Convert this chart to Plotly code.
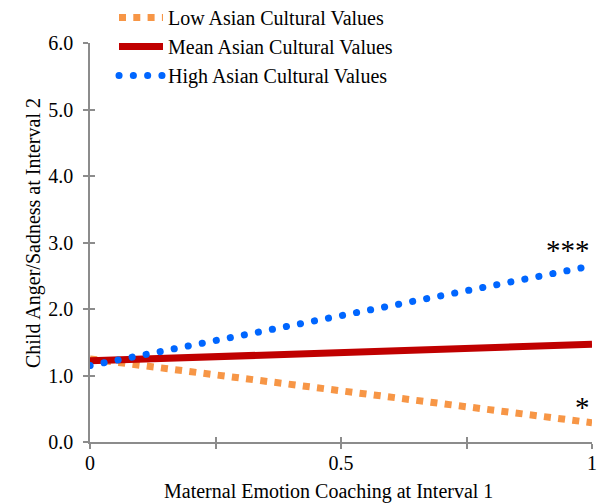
import plotly.graph_objects as go

# Simple-slopes data: child anger/sadness predicted from maternal emotion coaching
coaching = [0, 1]
low_values = [1.25, 0.29]
mean_values = [1.22, 1.47]
high_values = [1.15, 2.65]

series_names = ["Low Asian Cultural Values", "Mean Asian Cultural Values", "High Asian Cultural Values"]
x_tick_vals = [0, 0.25, 0.5, 0.75, 1]
x_tick_text = ["0", "", "0.5", "", "1"]
y_tick_vals = [0, 1, 2, 3, 4, 5, 6]
y_tick_text = ["0.0", "1.0", "2.0", "3.0", "4.0", "5.0", "6.0"]
sig_labels = [("***", 2.65), ("*", 0.29)]

FONT = "Liberation Serif"
AXIS_GREY = "#8c8c8c"

fig = go.Figure()
fig.add_trace(go.Scatter(x=coaching, y=low_values, mode="lines", name=series_names[0],
                         line=dict(color="#F79646", width=7, dash="7px,7.3px")))
fig.add_trace(go.Scatter(x=coaching, y=mean_values, mode="lines", name=series_names[1],
                         line=dict(color="#C00000", width=7)))
fig.add_trace(go.Scatter(x=coaching, y=high_values, mode="lines", name=series_names[2],
                         line=dict(color="#0066FF", width=7, dash="0.1px,14.2px")))
# empty trace that carries the overlay axes used for the inner half of the cross ticks
fig.add_trace(go.Scatter(x=[], y=[], xaxis="x2", yaxis="y2", showlegend=False, hoverinfo="skip"))

for text, yv in sig_labels:
    fig.add_annotation(x=1, y=yv, xref="x", yref="y", text=text, showarrow=False,
                       xanchor="right", yanchor="bottom", xshift=0, yshift=-2,
                       font=dict(family=FONT, size=29, color="black"))

fig.add_annotation(x=(328 - 90) / 502, y=(442 - 492) / 399, xref="paper", yref="paper",
                   text="Maternal Emotion Coaching at Interval 1", showarrow=False,
                   xanchor="center", yanchor="middle", font=dict(family=FONT, size=20, color="black"))
fig.add_annotation(x=(33 - 90) / 502, y=(442 - 233) / 399, xref="paper", yref="paper",
                   text="Child Anger/Sadness at Interval 2", textangle=-90, showarrow=False,
                   xanchor="center", yanchor="middle", font=dict(family=FONT, size=20, color="black"))

axis_common = dict(showgrid=False, zeroline=False, tickcolor=AXIS_GREY, tickwidth=1.5, ticklen=5,
                   tickfont=dict(family=FONT, size=20, color="black"))
fig.update_layout(
    width=603, height=504,
    margin=dict(l=90, r=11, t=43, b=62, autoexpand=False),
    paper_bgcolor="white", plot_bgcolor="white",
    font=dict(family=FONT, size=20, color="black"),
    xaxis=dict(range=[0, 1], tickvals=x_tick_vals, ticktext=x_tick_text, ticks="outside",
               showline=True, linecolor=AXIS_GREY, linewidth=1.5, ticklabelstandoff=-3, **axis_common),
    yaxis=dict(range=[0, 6], tickvals=y_tick_vals, ticktext=y_tick_text, ticks="outside",
               showline=True, linecolor=AXIS_GREY, linewidth=1.5, ticklabelstandoff=6, **axis_common),
    xaxis2=dict(range=[0, 1], overlaying="x", anchor="y2", tickvals=x_tick_vals, ticks="inside",
                showticklabels=False, showline=False, **axis_common),
    yaxis2=dict(range=[0, 6], overlaying="y", anchor="x2", tickvals=y_tick_vals, ticks="inside",
                showticklabels=False, showline=False, **axis_common),
    showlegend=True,
    legend=dict(x=(114 - 90) / 502, y=1 + 45 / 399, xanchor="left", yanchor="top",
                bgcolor="rgba(0,0,0,0)", font=dict(family=FONT, size=20, color="black"),
                itemwidth=44, tracegroupgap=0),
)

# round caps turn the high-values dash pattern into dots
round_caps = """
var s = document.createElement('style');
s.textContent = '.scatterlayer .trace:nth-child(3) path.js-line, .legend .traces:nth-child(3) path.js-line {stroke-linecap: round !important;}';
document.head.appendChild(s);
"""
fig.write_html("out.html", post_script=round_caps)
